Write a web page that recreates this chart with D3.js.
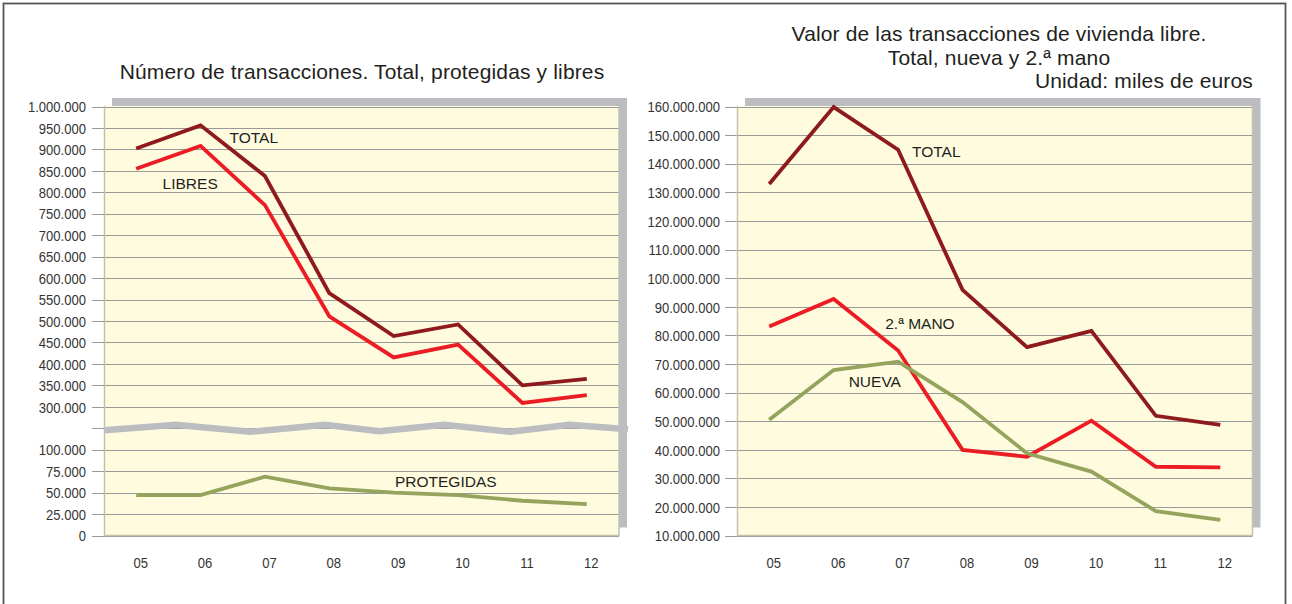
<!DOCTYPE html>
<html>
<head>
<meta charset="utf-8">
<script src="https://cdn.jsdelivr.net/npm/d3@7"></script>
<style>
  html, body { margin: 0; padding: 0; background: #ffffff; }
  svg { display: block; font-family: "Liberation Sans", Arial, sans-serif; }
</style>
</head>
<body>
<svg id="chart" width="1292" height="604"></svg>
<script>
// ---------- DATA ----------
const years = ["05", "06", "07", "08", "09", "10", "11", "12"];

// Left chart: número de transacciones
const totalTrans      = [902000, 956000, 838000, 565000, 465000, 492000, 350000, 365000];
const libresTrans     = [855000, 908000, 770000, 511000, 415000, 445000, 309000, 327000];
const protegidasTrans = [47000, 47000, 68500, 55000, 50000, 47000, 40500, 36500];
const leftTicks = [0, 25000, 50000, 75000, 100000,
  300000, 350000, 400000, 450000, 500000, 550000, 600000, 650000, 700000,
  750000, 800000, 850000, 900000, 950000, 1000000];
const leftBreakValue = 200000;

// Right chart: valor de las transacciones (miles de euros)
const totalValor = [132900000, 159800000, 144900000, 95900000, 75900000, 81600000, 51900000, 48700000];
const manoValor  = [83100000, 92700000, 74700000, 40000000, 37600000, 50200000, 34100000, 33900000];
const nuevaValor = [50500000, 67900000, 70800000, 56700000, 38800000, 32400000, 18600000, 15500000];
const rightTicks = [10000000, 20000000, 30000000, 40000000, 50000000, 60000000, 70000000, 80000000,
  90000000, 100000000, 110000000, 120000000, 130000000, 140000000, 150000000, 160000000];

const leftTitle = "Número de transacciones. Total, protegidas y libres";
const rightTitle = ["Valor de las transacciones de vivienda libre.", "Total, nueva y 2.ª mano"];
const rightUnit = "Unidad: miles de euros";

// label annotations [text, year, value, offset in steps]
const leftLabels = [["TOTAL", "06", 916000, 0.45], ["LIBRES", "05", 807000, 0.41], ["PROTEGIDAS", "09", 56200, 0.02]];
const rightLabels = [["TOTAL", "07", 142500000, 0.217], ["2.ª MANO", "07", 82300000, -0.2], ["NUEVA", "06", 61900000, 0.233]];

// ---------- STYLE ----------
const C = {
  total: "#8e1a1d", red: "#ec1c24", green: "#94a45d",
  cream: "#fffbdf", shadow: "#bcbdc1", grid: "#999999", plotEdge: "#c4c2ad",
  text: "#231f20", tick: "#333333"
};

const locale = d3.formatLocale({decimal: ",", thousands: ".", grouping: [3], currency: ["", "€"]});
const fmt = locale.format(",d");

const svg = d3.select("#chart");

// outer frame
svg.append("rect").attr("x", 3.5).attr("y", 3.5).attr("width", 1282).attr("height", 640)
  .attr("fill", "none").attr("stroke", "#555").attr("stroke-width", 1.8);

function panel(opts) {
  const {x0, x1, y0, y1, y, ticks, series, labels, tickRight, breakY} = opts;
  const g = svg.append("g");
  const x = d3.scalePoint().domain(years).range([x0, x1]).padding(0.5);
  const step = x.step();

  // shadow + plot background
  g.append("rect").attr("x", x0 + 8).attr("y", y0 - 8).attr("width", x1 - x0).attr("height", y1 - y0)
    .attr("fill", C.shadow);
  g.append("rect").attr("x", x0).attr("y", y0).attr("width", x1 - x0).attr("height", y1 - y0)
    .attr("fill", C.cream);

  // gridlines + tick marks
  const gridVals = breakY != null ? ticks.concat([breakY]) : ticks;
  g.selectAll("line.grid").data(gridVals).join("line").attr("class", "grid")
    .attr("x1", x0 - 12).attr("x2", x1)
    .attr("y1", d => Math.round(y(d)) + 0.5).attr("y2", d => Math.round(y(d)) + 0.5)
    .attr("stroke", C.grid).attr("stroke-width", 1);

  // plot edges (left & bottom)
  g.append("path").attr("d", `M${x0 + 0.5},${y0}V${y1}H${x1}V${y0}`)
    .attr("fill", "none").attr("stroke", C.plotEdge).attr("stroke-width", 1.5);

  // y-axis labels
  const yAxis = d3.axisLeft(y).tickValues(ticks).tickFormat(fmt).tickSize(0).tickPadding(0);
  const ya = g.append("g").attr("transform", `translate(${tickRight},0)`).call(yAxis);
  ya.select(".domain").remove();
  ya.selectAll("text").attr("x", 0).attr("dy", "0.36em")
    .attr("transform", "scale(0.9,1)")
    .attr("fill", C.tick).style("font-size", "14.5px").style("font-family", "'Liberation Sans', Arial, sans-serif");

  // x-axis labels
  const xAxis = d3.axisBottom(x).tickSize(0).tickPadding(0);
  const xa = g.append("g").attr("transform", `translate(4,${y1})`).call(xAxis);
  xa.select(".domain").remove();
  xa.selectAll("text").attr("y", 0).attr("dy", 0)
    .attr("transform", "translate(0,32) scale(0.9,1)")
    .attr("fill", C.tick).style("font-size", "14.5px").style("font-family", "'Liberation Sans', Arial, sans-serif");

  // break band
  if (opts.breakPattern) {
    const bx = d3.scaleLinear().domain([0, 1]).range([x0, x1 + 9]);
    const by = y(breakY);
    const line = d3.line().x(d => bx(d[0])).y(d => by + d[1]);
    g.append("path").attr("d", line(opts.breakPattern)).attr("fill", "none")
      .attr("stroke", C.shadow).attr("stroke-width", 6.5).attr("stroke-linejoin", "miter");
  }

  // series
  const line = d3.line().x((d, i) => x(years[i])).y(d => y(d));
  series.forEach(s => {
    g.append("path").attr("d", line(s.values)).attr("fill", "none")
      .attr("stroke", s.color).attr("stroke-width", 3.8)
      .attr("stroke-linejoin", "miter").attr("stroke-linecap", "butt");
  });

  // labels
  labels.forEach(([t, yr, v, off]) => {
    g.append("text").attr("x", x(yr) + off * step).attr("y", y(v))
      .attr("fill", C.text).style("font-size", "15.5px").text(t);
  });
}

// left chart scale with break
const yLeft = d3.scaleLinear()
  .domain([0, 100000, 300000, 1000000])
  .range([535.5, 449.7, 406.8, 106.5]);

panel({
  x0: 104, x1: 619, y0: 106, y1: 535.5, y: yLeft, ticks: leftTicks, tickRight: 86,
  breakY: leftBreakValue,
  breakPattern: [[0, 2], [0.137, -3.5], [0.279, 3.5], [0.422, -3.5], [0.525, 3], [0.649, -3.5], [0.775, 3.5], [0.889, -3.5], [1, 1]],
  series: [
    {values: totalTrans, color: C.total},
    {values: libresTrans, color: C.red},
    {values: protegidasTrans, color: C.green}
  ],
  labels: leftLabels
});

const yRight = d3.scaleLinear().domain([10000000, 160000000]).range([535.7, 106.5]);
panel({
  x0: 737, x1: 1252.5, y0: 106, y1: 535.5, y: yRight, ticks: rightTicks, tickRight: 720,
  series: [
    {values: totalValor, color: C.total},
    {values: manoValor, color: C.red},
    {values: nuevaValor, color: C.green}
  ],
  labels: rightLabels
});

// titles
const titleStyle = sel => sel.attr("fill", C.text).style("font-size", "21px").style("letter-spacing", "0.15px");
svg.append("text").attr("x", 362).attr("y", 79).attr("text-anchor", "middle")
  .call(titleStyle).text(leftTitle);
rightTitle.forEach((t, i) => {
  svg.append("text").attr("x", 999).attr("y", 41 + i * 23.5).attr("text-anchor", "middle")
    .call(titleStyle).text(t);
});
svg.append("text").attr("x", 1253).attr("y", 88).attr("text-anchor", "end")
  .call(titleStyle).text(rightUnit);
</script>
</body>
</html>
